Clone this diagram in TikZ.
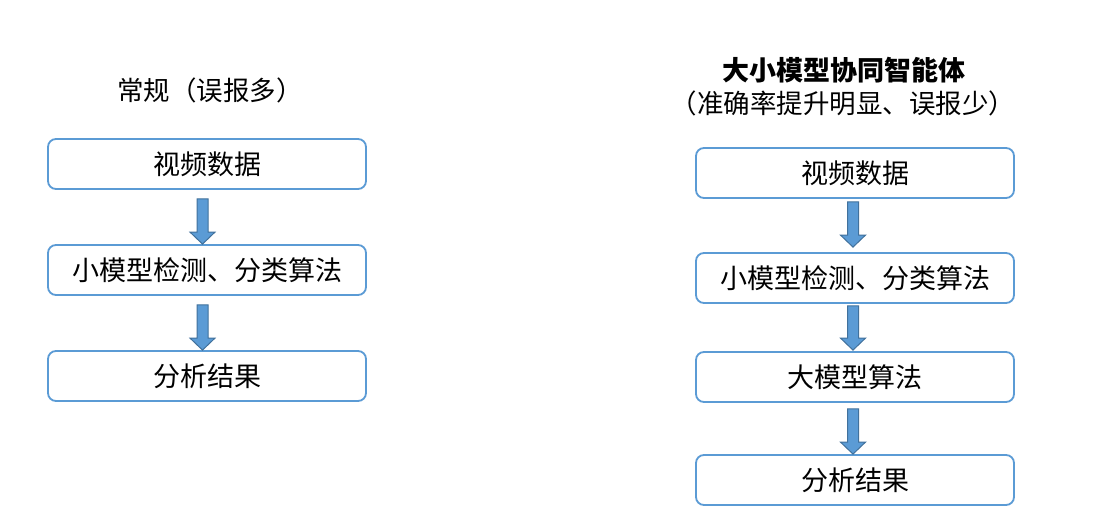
\documentclass[tikz,border=0pt]{standalone}
\usepackage{fontspec}
\newfontfamily\cjk{Noto Sans CJK SC}
\usetikzlibrary{calc}
\definecolor{boxblue}{HTML}{5B9BD5}
\definecolor{arrowedge}{HTML}{41719C}
\tikzset{
  flowbox/.style={draw=boxblue, line width=1.8pt, rounded corners=8pt, fill=white,
    minimum width=318pt, minimum height=50pt, inner sep=0pt,
    font=\cjk\fontsize{27}{31}\selectfont},
  titletext/.style={inner sep=0pt, font=\cjk\fontsize{26.5}{31}\selectfont},
  barrow/.style={fill=boxblue, draw=arrowedge, line width=1pt, line join=miter}
}
\newcommand\blockarrow[5][-4.5]{%
  \path[barrow] let \p1=($(#2.south)+(#1,#4)$), \p2=($(#3.north)-(0,#5)$) in
    (\x1-5.5pt,\y1) -- (\x1+5.5pt,\y1) -- (\x1+5.5pt,\y2+12pt) -- (\x1+12.5pt,\y2+12pt)
    -- (\x1,\y2) -- (\x1-12.5pt,\y2+12pt) -- (\x1-5.5pt,\y2+12pt) -- cycle;}
\begin{document}
\begin{tikzpicture}[x=1pt,y=-1pt]
\useasboundingbox[fill=white] (0,0) rectangle (1098,524);
% left column
\node[titletext] (tl) at (210,90) {常规（误报多）};
\node[flowbox] (l1) at (207,164) {视频数据};
\node[flowbox] (l2) at (207,270) {小模型检测、分类算法};
\node[flowbox] (l3) at (207,376) {分析结果};
\blockarrow{l1}{l2}{9}{0}
\blockarrow{l2}{l3}{9}{0}
% right column
\node[titletext, font=\cjk\bfseries\fontsize{27}{31}\selectfont] (tr1) at (844,70) {大小模型协同智能体};
\node[titletext] (tr2) at (843,103) {（准确率提升明显、误报少）};
\node[flowbox] (r1) at (855,173) {视频数据};
\node[flowbox] (r2) at (855,278) {小模型检测、分类算法};
\node[flowbox] (r3) at (855,377) {大模型算法};
\node[flowbox] (r4) at (855,480) {分析结果};
\blockarrow[-2]{r1}{r2}{3}{5}
\blockarrow[-2]{r2}{r3}{2}{1}
\blockarrow[-2]{r3}{r4}{6}{0}
\end{tikzpicture}
\end{document}
